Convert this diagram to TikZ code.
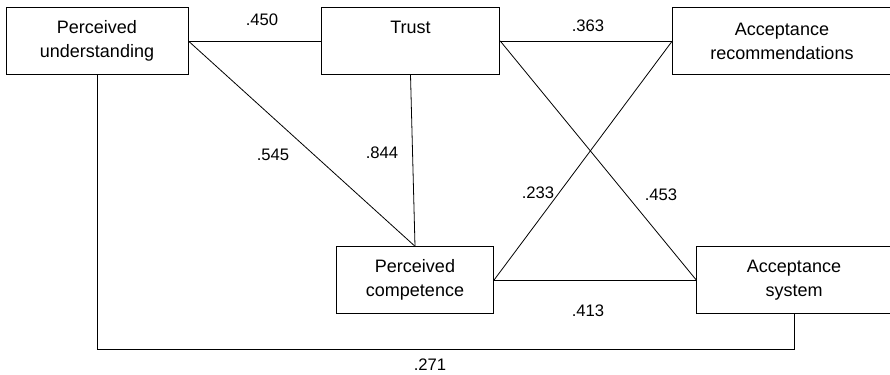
\documentclass[tikz,border=0pt]{standalone}
\usepackage{fontspec}
\setmainfont{Liberation Sans}
\usepackage{tikz}

\tikzset{
  box/.style={draw, line width=0.6pt, minimum height=50pt, align=center, inner sep=0pt,
    font=\fontsize{13.5}{18}\selectfont},
  val/.style={font=\fontsize{12.5}{14}\selectfont, inner sep=0pt},
  link/.style={line width=0.6pt}
}

\begin{document}
\begin{tikzpicture}[x=0.75pt, y=-0.75pt]
\clip (0,0) rectangle (890,375);
\fill[white] (0,0) rectangle (890,375);

\node[box, minimum width=136.5pt] (pu) at (97,41) {Perceived\\understanding};
\node[box, minimum width=134pt] (trust) at (410.5,41) {Trust\\\phantom{g}};
\node[box, minimum width=164pt] (ar) at (782,41) {Acceptance\\recommendations};
\node[box, minimum width=118pt] (pc) at (415,280) {Perceived\\competence};
\node[box, minimum width=146pt] (as) at (794,280) {Acceptance\\system};

\coordinate (bot) at (0,349);

\draw[link] (pu.east) -- (trust.west);
\draw[link] (pu.east) -- (pc.north);
\draw[link] (trust.south) -- (pc.north);
\draw[link] (trust.east) -- (ar.west);
\draw[link] (trust.east) -- (as.west);
\draw[link] (pc.east) -- (ar.west);
\draw[link] (pc.east) -- (as.west);
\draw[link] (pu.south) -- (pu.south |- bot) -- (as.south |- bot) -- (as.south);

\node[val] (l450) at (262,20) {.450};
\node[val] (l545) at (273,155) {.545};
\node[val] (l844) at (382,153) {.844};
\node[val] (l363) at (588,26) {.363};
\node[val] (l233) at (538,193) {.233};
\node[val] (l453) at (661,195) {.453};
\node[val] (l413) at (588,311) {.413};
\node[val] (l271) at (430,365) {.271};

\end{tikzpicture}
\end{document}
